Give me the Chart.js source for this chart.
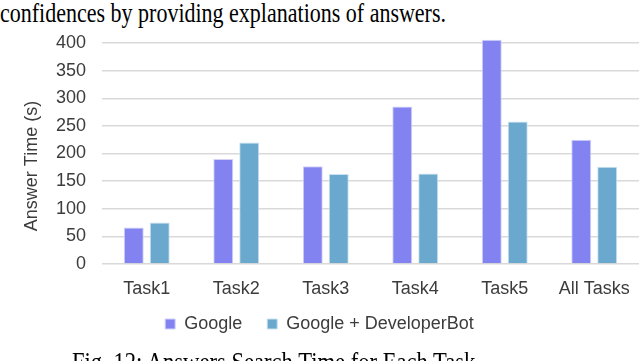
<!DOCTYPE html>
<html>
<head>
<meta charset="utf-8">
<script src="https://cdn.jsdelivr.net/npm/chart.js@4"></script>
<style>
  html, body { margin: 0; padding: 0; background: #fff; }
  body { width: 640px; height: 361px; position: relative; overflow: hidden; }
  #wrap { position: absolute; left: 0; top: 0; width: 640px; height: 361px; }
  .paper { position: absolute; font-family: "Liberation Serif", "Times New Roman", serif;
           font-size: 22px; line-height: 22px; color: #000; white-space: nowrap;
           transform: scaleY(1.22); transform-origin: 0 0; }
  #above { left: 0; top: 0px; }
  #caption { left: 72px; top: 349px; font-size: 22.6px; }
</style>
</head>
<body>
<div id="above" class="paper">confidences by providing explanations of answers.</div>
<div id="wrap"><canvas id="barChart"></canvas></div>
<div id="caption" class="paper">Fig. 12: Answers Search Time for Each Task</div>
<script>
const tasks = ['Task1', 'Task2', 'Task3', 'Task4', 'Task5', 'All Tasks'];
const googleTime = [66, 190, 177, 285, 406, 225];
const botTime = [75, 220, 163, 164, 258, 176];
const yTicks = [0, 50, 100, 150, 200, 250, 300, 350, 400];

const TXT = '#3c3c3c';
const FONT = { family: 'Arial, "Liberation Sans", sans-serif', size: 18 };

// y title is drawn by hand so it can sit a bit lower than Chart.js centres it
const yTitle = {
  id: 'yTitle',
  afterDraw(chart) {
    const c = chart.ctx;
    c.save();
    c.translate(32, 166);
    c.rotate(-Math.PI / 2);
    c.font = '18px Arial, "Liberation Sans", sans-serif';
    c.fillStyle = TXT;
    c.textAlign = 'center';
    c.textBaseline = 'middle';
    c.fillText('Answer Time (s)', 0, 0);
    c.restore();
  }
};

const ctx = document.getElementById('barChart').getContext('2d');
new Chart(ctx, {
  type: 'bar',
  data: {
    labels: tasks,
    datasets: [{
      label: 'Google',
      data: googleTime,
      backgroundColor: '#8283f0',
      borderColor: '#d2d2fb',
      borderWidth: 1,
      clip: false
    }, {
      label: 'Google + DeveloperBot',
      data: botTime,
      backgroundColor: '#6aa8ce',
      borderColor: '#cbe2f0',
      borderWidth: 1,
      clip: false
    }]
  },
  options: {
    responsive: true,
    maintainAspectRatio: false,
    animation: false,
    categoryPercentage: 0.58,
    barPercentage: 0.77,
    layout: { padding: { top: 43, right: 1, bottom: 18, left: 0 } },
    plugins: {
      legend: {
        position: 'bottom',
        labels: {
          font: FONT, color: TXT, boxWidth: 10, boxHeight: 10, padding: 10,
          // widen the gap between the two entries without growing the legend height
          generateLabels(chart) {
            const items = Chart.defaults.plugins.legend.labels.generateLabels(chart);
            items.forEach((it, i) => { if (i < items.length - 1) it.text += '   '; });
            return items;
          }
        }
      },
      tooltip: { enabled: false }
    },
    scales: {
      x: {
        grid: { display: false },
        border: { display: false },
        ticks: { font: FONT, color: TXT, padding: 6, maxRotation: 0 },
        afterFit(scale) { scale.height = 41; }
      },
      y: {
        min: 0,
        max: 400,
        afterBuildTicks(scale) { scale.ticks = yTicks.map(v => ({ value: v })); },
        grid: { color: '#d9d9d9', lineWidth: 1.5, drawTicks: false },
        border: { display: false },
        ticks: { font: FONT, color: TXT, padding: 16 },
        afterFit(scale) { scale.width = 102; }
      }
    }
  },
  plugins: [yTitle]
});
</script>
</body>
</html>
